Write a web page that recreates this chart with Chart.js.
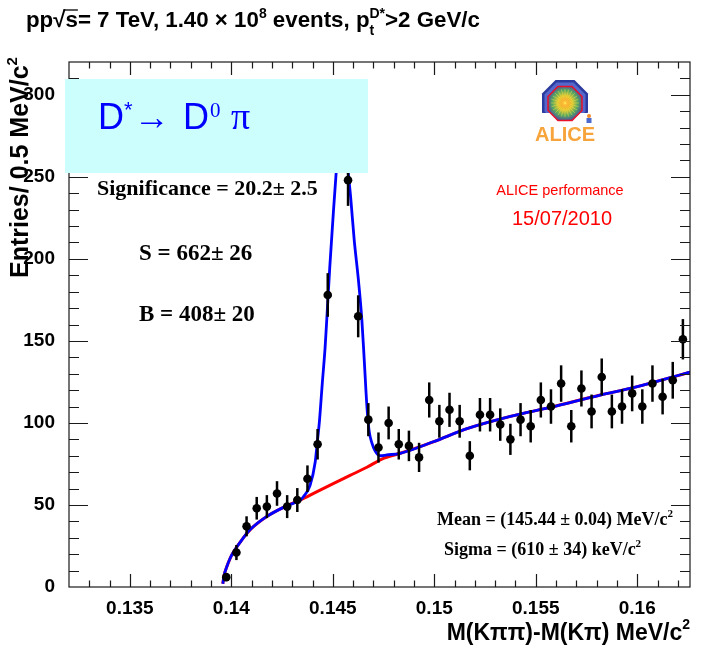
<!DOCTYPE html>
<html>
<head>
<meta charset="utf-8">
<script src="https://cdn.jsdelivr.net/npm/chart.js@4.4.0/dist/chart.umd.min.js"></script>
<style>
  body { margin: 0; background: #fff; }
  canvas { display: block; }
</style>
</head>
<body>
<canvas id="chart-canvas" width="705" height="649"></canvas>
<script>
// ### data ###
// bin centres of M(Kpipi)-M(Kpi), 0.5 MeV bins
const BIN_CENTERS = [
  0.13975, 0.14025, 0.14075, 0.14125, 0.14175, 0.14225, 0.14275, 0.14325,
  0.14375, 0.14425, 0.14475, 0.14525, 0.14575, 0.14625, 0.14675, 0.14725,
  0.14775, 0.14825, 0.14875, 0.14925, 0.14975, 0.15025, 0.15075, 0.15125,
  0.15175, 0.15225, 0.15275, 0.15325, 0.15375, 0.15425, 0.15475, 0.15525,
  0.15575, 0.15625, 0.15675, 0.15725, 0.15775, 0.15825, 0.15875, 0.15925,
  0.15975, 0.16025, 0.16075, 0.16125, 0.16175, 0.16225,
];
const ENTRIES = [
  6, 21, 37, 48, 49, 57, 49, 53,
  66, 87, 178, 278, 248, 165, 102, 85,
  100, 87, 86, 79, 114, 101, 108, 101,
  80, 105, 105, 99, 90, 102, 98, 114,
  110, 124, 98, 121, 107, 128, 107, 110,
  118, 110, 124, 116, 126, 151,
];
const ERRORS = [
  2.4, 4.6, 6.1, 6.9, 7.0, 7.5, 7.0, 7.3,
  8.1, 9.3, 13.3, 16.7, 15.7, 12.8, 10.1, 9.2,
  10.0, 9.3, 9.3, 8.9, 10.7, 10.0, 10.4, 10.0,
  8.9, 10.2, 10.2, 9.9, 9.5, 10.1, 9.9, 10.7,
  10.5, 11.1, 9.9, 11.0, 10.3, 11.3, 10.3, 10.5,
  10.9, 10.5, 11.1, 10.8, 11.2, 12.3,
];

// background fit (red)
const BG_X = [
  0.13958, 0.13964, 0.13978, 0.13994, 0.14009, 0.14059, 0.14093, 0.14175,
  0.14273, 0.14339, 0.1442, 0.14502, 0.14585, 0.14668, 0.14742, 0.14832,
  0.14995, 0.15161, 0.15375, 0.15572, 0.15818, 0.15981, 0.1626,
];
const BG_Y = [
  2, 7, 12.5, 17.5, 21, 30, 35, 43,
  49.5, 53, 58, 63, 68, 73, 78, 81.5,
  88.5, 96.5, 104, 109.5, 117, 121.5, 131,
];

// signal + background fit (blue) around the peak
const PEAK_X = [
  0.14355, 0.14388, 0.14413, 0.14424, 0.14434, 0.14448, 0.14462, 0.14472,
  0.14485, 0.14503, 0.14515, 0.1453, 0.14544, 0.14558, 0.14577, 0.14589,
  0.14605, 0.14627, 0.14643, 0.14655, 0.14668, 0.14679, 0.14692, 0.14708,
  0.14733, 0.14766,
];
const PEAK_Y = [
  55, 62, 76, 89, 101, 124, 146, 167,
  195, 229, 250, 272, 281, 273, 251, 236,
  212, 186, 163, 138, 110, 95, 88, 83,
  80, 80.5,
];

const X_TICKS = [0.135, 0.14, 0.145, 0.15, 0.155, 0.16];
const Y_TICKS = [0, 50, 100, 150, 200, 250, 300];
const X_MIN = 0.132;
const X_MAX = 0.1626;
const Y_MIN = 0;
const Y_MAX = 320;

// ### colors & fonts ###
const BLUE = "#0000ff";
const RED = "#ff0000";
const BLACK = "#000000";
const CYAN = "#ccfefe";
const ORANGE = "#f7a43c";
const SANS = '"Liberation Sans", Arial, sans-serif';
const SERIF = '"Liberation Serif", "Times New Roman", serif';

// ### data handling ###
function toPoints(xs, ys) {
  return xs.map((x, i) => ({ x: x, y: ys[i] }));
}

function buildTotalFit() {
  const first = PEAK_X[0];
  const last = PEAK_X[PEAK_X.length - 1];
  const before = toPoints(BG_X, BG_Y).filter((p) => p.x < first);
  const after = toPoints(BG_X, BG_Y).filter((p) => p.x > last);
  return before.concat(toPoints(PEAK_X, PEAK_Y), after);
}

// ### text helpers ###
// parts: [text, font, dy]
function drawParts(ctx, x, y, parts, align) {
  let width = 0;
  parts.forEach((p) => {
    ctx.font = p[1];
    width += ctx.measureText(p[0]).width;
  });
  let cx = align === "right" ? x - width : align === "center" ? x - width / 2 : x;
  parts.forEach((p) => {
    ctx.font = p[1];
    ctx.fillText(p[0], cx, y + (p[2] || 0));
    cx += ctx.measureText(p[0]).width;
  });
  return cx;
}

function octagon(ctx, cx, cy, r) {
  const R = r / Math.cos(Math.PI / 8);
  ctx.beginPath();
  for (let k = 0; k < 8; k++) {
    const a = Math.PI / 8 + (k * Math.PI) / 4;
    const px = cx + R * Math.cos(a);
    const py = cy + R * Math.sin(a);
    if (k === 0) ctx.moveTo(px, py);
    else ctx.lineTo(px, py);
  }
  ctx.closePath();
}

function drawLogo(ctx, cx, cy) {
  ctx.save();
  // magnet
  ctx.save();
  ctx.beginPath();
  ctx.rect(cx - 30, cy - 30, 60, 40);
  ctx.clip();
  octagon(ctx, cx, cy, 23);
  ctx.fillStyle = "#2a3a9e";
  ctx.fill();
  octagon(ctx, cx, cy, 20.5);
  ctx.fillStyle = "#5468cc";
  ctx.fill();
  ctx.restore();
  // event display
  octagon(ctx, cx, cy + 0.5, 17);
  const g = ctx.createRadialGradient(cx, cy, 1, cx, cy, 19);
  g.addColorStop(0, "#ff7a1a");
  g.addColorStop(0.35, "#e0c830");
  g.addColorStop(0.65, "#58a860");
  g.addColorStop(1, "#4a3ea8");
  ctx.fillStyle = g;
  ctx.fill();
  ctx.strokeStyle = "#e8102a";
  ctx.lineWidth = 1.5;
  ctx.stroke();
  ctx.strokeStyle = "rgba(255,230,80,0.7)";
  ctx.lineWidth = 0.6;
  for (let k = 0; k < 24; k++) {
    const a = (k * Math.PI) / 12;
    ctx.beginPath();
    ctx.moveTo(cx, cy);
    ctx.lineTo(cx + 14 * Math.cos(a), cy + 14 * Math.sin(a));
    ctx.stroke();
  }
  // little figure
  ctx.fillStyle = "#f08a2a";
  ctx.beginPath();
  ctx.arc(cx + 24, cy + 13, 2, 0, Math.PI * 2);
  ctx.fill();
  ctx.fillStyle = "#4a6ad0";
  ctx.fillRect(cx + 21.5, cy + 15, 5, 5);
  // name
  ctx.fillStyle = ORANGE;
  ctx.font = "bold 20px " + SANS;
  ctx.textAlign = "center";
  ctx.fillText("ALICE", cx, cy + 38);
  ctx.restore();
}

// ### plugins ###
const errorBars = {
  id: "errorBars",
  afterDatasetsDraw(chart) {
    const { ctx, scales: { x, y } } = chart;
    ctx.save();
    ctx.strokeStyle = BLACK;
    ctx.lineWidth = 2.5;
    BIN_CENTERS.forEach((c, i) => {
      const px = x.getPixelForValue(c);
      ctx.beginPath();
      ctx.moveTo(px, y.getPixelForValue(ENTRIES[i] - ERRORS[i]));
      ctx.lineTo(px, y.getPixelForValue(ENTRIES[i] + ERRORS[i]));
      ctx.stroke();
    });
    ctx.restore();
  },
};

const frameTicks = {
  id: "frameTicks",
  afterDraw(chart) {
    const { ctx, chartArea: a, scales: { x, y } } = chart;
    ctx.save();
    ctx.strokeStyle = "#1a1a1a";
    ctx.lineWidth = 1.2;
    ctx.strokeRect(a.left, a.top, a.right - a.left, a.bottom - a.top);
    ctx.beginPath();
    // x ticks every 1 MeV, long ones every 5 MeV
    for (let i = 1; i <= 30; i++) {
      const v = X_MIN + i * 0.001;
      const len = i % 5 === 3 ? 13 : 6.5;
      const px = Math.round(x.getPixelForValue(v)) + 0.5;
      ctx.moveTo(px, a.bottom);
      ctx.lineTo(px, a.bottom - len);
      ctx.moveTo(px, a.top);
      ctx.lineTo(px, a.top + len);
    }
    // y ticks every 10, long ones every 50
    for (let v = 10; v < Y_MAX; v += 10) {
      const len = v % 50 === 0 ? 19 : 10;
      const py = Math.round(y.getPixelForValue(v)) + 0.5;
      ctx.moveTo(a.left, py);
      ctx.lineTo(a.left + len, py);
      ctx.moveTo(a.right, py);
      ctx.lineTo(a.right - len, py);
    }
    ctx.stroke();
    ctx.restore();
  },
};

const annotations = {
  id: "annotations",
  afterDraw(chart) {
    const ctx = chart.ctx;
    ctx.save();
    ctx.textAlign = "left";
    ctx.textBaseline = "alphabetic";

    // decay channel box
    ctx.fillStyle = CYAN;
    ctx.fillRect(65, 79, 303, 94);
    ctx.fillStyle = BLUE;
    let cx = drawParts(ctx, 98, 129, [["D", "36px " + SANS]]);
    ctx.font = "22px " + SANS;
    ctx.fillText("*", cx, 117);
    ctx.font = "36px " + SERIF;
    ctx.fillText("\u2192", 134, 129);
    cx = drawParts(ctx, 183, 129, [["D", "36px " + SANS]]);
    ctx.font = "21px " + SERIF;
    ctx.fillText("0", cx + 1, 117);
    ctx.font = "38px " + SERIF;
    ctx.fillText("\u03c0", 231, 129);

    // fit results
    ctx.fillStyle = BLACK;
    ctx.font = "bold 22px " + SERIF;
    ctx.fillText("Significance = 20.2\u00b1 2.5", 97, 195);
    ctx.font = "bold 23px " + SERIF;
    ctx.fillText("S = 662\u00b1 26", 139, 260);
    ctx.fillText("B = 408\u00b1 20", 139, 321);
    drawParts(ctx, 437, 525, [
      ["Mean = (145.44 \u00b1 0.04) MeV/c", "bold 18px " + SERIF],
      ["2", "bold 11px " + SERIF, -8],
    ]);
    drawParts(ctx, 444, 555, [
      ["Sigma = (610 \u00b1 34) keV/c", "bold 18px " + SERIF],
      ["2", "bold 11px " + SERIF, -8],
    ]);

    // performance label
    drawLogo(ctx, 565, 103);
    ctx.fillStyle = RED;
    ctx.textAlign = "center";
    ctx.font = "14.5px " + SANS;
    ctx.fillText("ALICE performance", 560, 195);
    ctx.font = "20px " + SANS;
    ctx.fillText("15/07/2010", 562, 225);
    ctx.textAlign = "left";

    // title
    ctx.fillStyle = BLACK;
    const tf = "bold 22.3px " + SANS;
    const sf = "bold 14px " + SANS;
    cx = drawParts(ctx, 26, 27, [["pp", tf], ["\u221a", tf]]);
    ctx.font = tf;
    const sw = ctx.measureText("s").width;
    ctx.fillText("s", cx, 27);
    ctx.lineWidth = 1.3;
    ctx.strokeStyle = BLACK;
    ctx.beginPath();
    ctx.moveTo(cx - 2, 10);
    ctx.lineTo(cx + sw, 10);
    ctx.stroke();
    cx = drawParts(ctx, cx + sw, 27, [
      ["= 7 TeV, 1.40 \u00d7 10", tf],
      ["8", sf, -9],
      [" events, p", tf],
    ]);
    ctx.font = sf;
    ctx.fillText("D*", cx, 18);
    ctx.fillText("t", cx, 35);
    cx += ctx.measureText("D*").width;
    drawParts(ctx, cx, 27, [[">2 GeV/c", tf]]);

    // axis titles
    drawParts(ctx, 690, 640, [
      ["M(K\u03c0\u03c0)-M(K\u03c0) MeV/c", "bold 23px " + SANS],
      ["2", "bold 14px " + SANS, -11],
    ], "right");
    ctx.translate(28, 278);
    ctx.rotate(-Math.PI / 2);
    drawParts(ctx, 0, 0, [
      ["Entries/ 0.5 MeV/c", "bold 25px " + SANS],
      ["2", "bold 15px " + SANS, -11],
    ]);
    ctx.restore();
  },
};

// ### rendering ###
function renderMassChart() {
  const tickFont = { family: SANS, size: 19, weight: "bold" };
  const chartCanvas = document.getElementById("chart-canvas");
  new Chart(chartCanvas, {
    type: "scatter",
    data: {
      datasets: [
        {
          label: "data",
          data: toPoints(BIN_CENTERS, ENTRIES),
          backgroundColor: BLACK,
          borderColor: BLACK,
          pointRadius: 4.3,
          pointBorderWidth: 0,
        },
        {
          label: "signal + background",
          data: buildTotalFit(),
          showLine: true,
          pointRadius: 0,
          borderColor: BLUE,
          borderWidth: 2.8,
          cubicInterpolationMode: "monotone",
        },
        {
          label: "background",
          data: toPoints(BG_X, BG_Y),
          showLine: true,
          pointRadius: 0,
          borderColor: RED,
          borderWidth: 3,
          cubicInterpolationMode: "monotone",
        },
      ],
    },
    options: {
      responsive: false,
      animation: false,
      events: [],
      layout: { padding: { left: 0, right: 15, top: 62, bottom: 0 } },
      plugins: { legend: { display: false }, tooltip: { enabled: false } },
      scales: {
        x: {
          type: "linear",
          min: X_MIN,
          max: X_MAX,
          grid: { display: false },
          border: { display: false },
          afterBuildTicks: (s) => {
            s.ticks = X_TICKS.map((v) => ({ value: v }));
          },
          afterFit: (s) => {
            s.height = 62;
          },
          ticks: {
            font: tickFont,
            color: BLACK,
            padding: 2,
            maxRotation: 0,
            autoSkip: false,
            callback: (v) => String(v),
          },
        },
        y: {
          type: "linear",
          min: Y_MIN,
          max: Y_MAX,
          grid: { display: false },
          border: { display: false },
          afterBuildTicks: (s) => {
            s.ticks = Y_TICKS.map((v) => ({ value: v }));
          },
          afterFit: (s) => {
            s.width = 69;
          },
          ticks: {
            font: tickFont,
            color: BLACK,
            padding: 6,
            autoSkip: false,
            callback: (v) => String(v),
          },
        },
      },
    },
    plugins: [errorBars, frameTicks, annotations],
  });
}

renderMassChart();
</script>
</body>
</html>
